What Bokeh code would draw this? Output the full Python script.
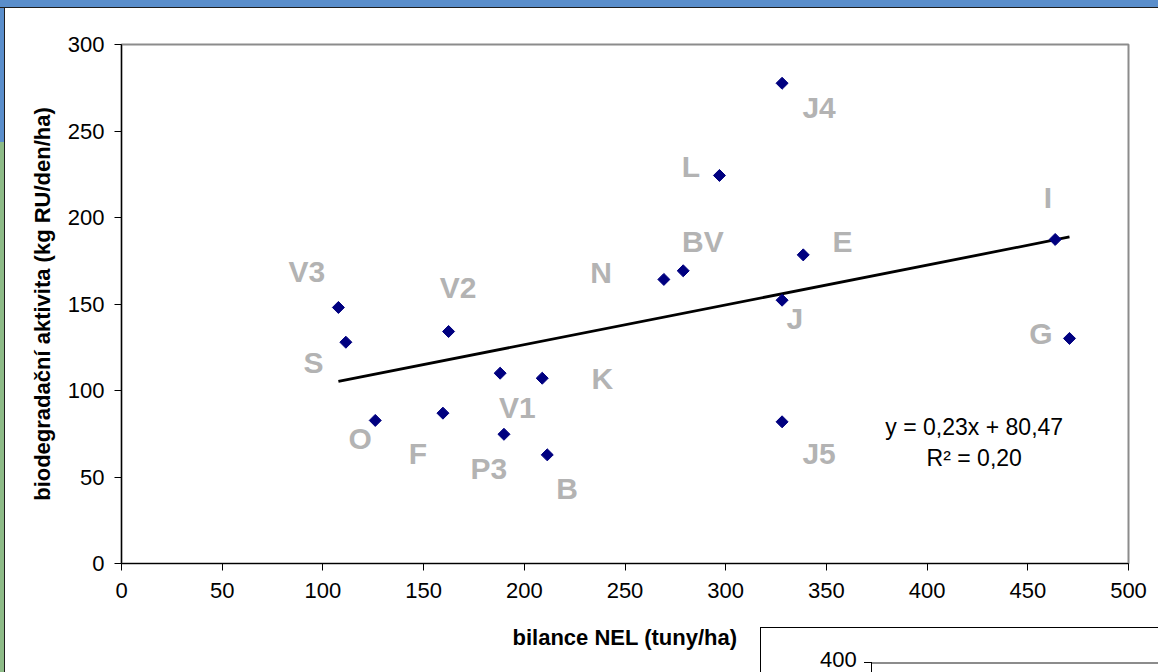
import numpy as np
from bokeh.plotting import figure
from bokeh.layouts import column, row
from bokeh.models import Range1d, ColumnDataSource, Label, FixedTicker, Div
from bokeh.embed import file_html
from bokeh.resources import INLINE
from bokeh.core.properties import value

# ---------------- data ----------------
names = ["V3", "S", "O", "F", "V2", "V1", "K", "P3", "B",
         "N", "BV", "L", "J4", "E", "J", "J5", "I", "G"]
nel = [107.7, 111.4, 126.0, 159.6, 162.4, 188.0, 208.9, 189.9, 211.4,
       269.3, 278.9, 296.9, 328.0, 338.5, 328.0, 328.0, 463.6, 470.7]
bio = [148.0, 127.9, 82.7, 86.9, 134.1, 110.0, 107.1, 74.7, 62.8,
       164.2, 169.2, 224.3, 277.6, 178.4, 152.2, 81.9, 187.3, 130.1]
slope = 0.23
intercept = 80.47
eq_text = "y = 0,23x + 80,47"
r2_text = "R² = 0,20"
x_ticks = [0, 50, 100, 150, 200, 250, 300, 350, 400, 450, 500]
y_ticks = [0, 50, 100, 150, 200, 250, 300]
x_title = "bilance NEL (tuny/ha)"
y_title = "biodegradační aktivita (kg RU/den/ha)"
second_chart_tick = "400"

# label placement (screen px offsets relative to each point)
lab_dx = [-31.6, -32.4, -15.0, -25.0, 9.4, 17.3, 60.0, -15.0, 19.7,
          -62.7, 19.7, -28.6, 37.0, 39.3, 12.7, 37.0, -7.3, -28.6]
lab_dy = [-36.3, 20.0, 17.7, 40.6, -44.3, 34.0, 0.6, 34.0, 33.4,
          -7.3, -29.3, -9.0, 24.0, -13.3, 18.0, 32.0, -42.3, -5.3]

FONT = "Liberation Sans"
TOP_BAND = 8
LEFT_BAND = 5

p = figure(width=1158 - LEFT_BAND, height=672 - TOP_BAND,
           output_backend="svg", toolbar_location=None,
           x_range=Range1d(0, 500), y_range=Range1d(0, 300),
           min_border_left=121 - LEFT_BAND, min_border_right=30,
           min_border_top=44 - TOP_BAND, min_border_bottom=109,
           background_fill_color="white", border_fill_color="white",
           margin=0)
p.outline_line_color = "#8c8c8c"
p.outline_line_width = 2
p.grid.visible = False

for ax in (p.xaxis[0], p.yaxis[0]):
    ax.axis_line_color = "black"
    ax.axis_line_width = 1.2
    ax.major_tick_line_color = "black"
    ax.major_tick_out = 7
    ax.major_tick_in = 0
    ax.minor_tick_line_color = None
    ax.major_label_text_font = FONT
    ax.major_label_text_font_size = "22px"
    ax.major_label_text_color = "black"
    ax.axis_label_text_font = FONT
    ax.axis_label_text_font_size = "22px"
    ax.axis_label_text_font_style = "bold"
    ax.axis_label_text_color = "black"

p.xaxis.ticker = FixedTicker(ticks=x_ticks)
p.yaxis.ticker = FixedTicker(ticks=y_ticks)
p.xaxis.axis_label = x_title
p.yaxis.axis_label = y_title
p.xaxis.major_label_standoff = 12
p.yaxis.major_label_standoff = 10
p.xaxis.axis_label_standoff = 24
p.yaxis.axis_label_standoff = 10

# trend line across the data extent
x_lo, x_hi = min(nel), max(nel)
p.line([x_lo, x_hi], [slope * x_lo + intercept, slope * x_hi + intercept],
       line_color="black", line_width=2.8)

src = ColumnDataSource(dict(x=nel, y=bio, name=names, dx=lab_dx, dy=lab_dy))
p.scatter("x", "y", source=src, marker="square", angle=np.pi / 4, size=8.5,
          fill_color="#000080", line_color="#000080")
p.text("x", "y", text="name", source=src, x_offset="dx", y_offset="dy",
       text_align="center", text_baseline="middle",
       text_font=value(FONT), text_font_style="bold", text_font_size="30px",
       text_color="#b3b3b3")

p.add_layout(Label(x=423.4, y=78.8, text=eq_text, text_align="center",
                   text_baseline="middle", text_font=FONT,
                   text_font_size="23px", text_color="black"))
p.add_layout(Label(x=423.4, y=60.9, text=r2_text, text_align="center",
                   text_baseline="middle", text_font=FONT,
                   text_font_size="23px", text_color="black"))

# ---------------- fragment of the next chart (bottom right), as HTML overlay ----
fragment = (
    '<div style="position:absolute; left:760px; top:627px; width:420px; '
    'height:45px; border:1.3px solid #000; border-bottom:none; '
    'background:#fff; z-index:50; overflow:hidden; '
    'box-sizing:border-box; font-family:\'Liberation Sans\'; font-size:22px; '
    'color:#000; line-height:22px;">'
    '<span style="position:absolute; left:59px; top:21px;">%s</span>'
    '<div style="position:absolute; left:110px; top:34px; width:320px; '
    'height:1.5px; background:#8c8c8c;"></div>'
    '<div style="position:absolute; left:110px; top:34px; width:1.3px; '
    'height:40px; background:#000;"></div>'
    '<div style="position:absolute; left:103px; top:34px; width:7px; '
    'height:1.3px; background:#000;"></div>'
    '</div>' % second_chart_tick
)

# ---------------- window chrome ----------------
top = Div(text=fragment, width=1158, height=TOP_BAND, margin=0,
          styles={"background-color": "#5a8ecb",
                  "border-bottom": "1.5px solid #1e1e1e",
                  "box-sizing": "border-box", "overflow": "visible",
                  "z-index": "50"})
left = Div(text="", width=LEFT_BAND, height=672 - TOP_BAND, margin=0,
           styles={"background": "linear-gradient(to bottom, #5a8ecb 0px, "
                                 "#5a8ecb 134px, #8dbb87 134px, #8dbb87 100%)",
                   "border-right": "1.5px solid #1e1e1e",
                   "box-sizing": "border-box"})
layout = column(top, row(left, p, spacing=0, margin=0), spacing=0, margin=0)

open("out.html", "w").write(file_html(layout, INLINE))
